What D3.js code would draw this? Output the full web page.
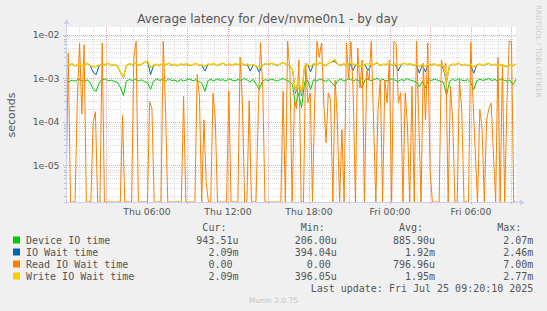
<!DOCTYPE html>
<html>
<head>
<meta charset="utf-8">
<script src="https://cdn.jsdelivr.net/npm/d3@7"></script>
<style>
  body { margin: 0; background: #f0f0f0; }
  svg text { font-family: "DejaVu Sans", sans-serif; }
  svg .mono { font-family: "DejaVu Sans Mono", monospace; white-space: pre; }
</style>
</head>
<body>
<div id="chart"></div>
<script>
"use strict";

// time span of the "by day" graph (33h20m)
const startTime = Date.UTC(2025, 6, 24, 0, 0, 10);
const endTime = Date.UTC(2025, 6, 25, 9, 20, 10);

// values in milliseconds
const deviceIO = [
  0.86, 0.82, 0.90, 0.85, 0.93, 0.88, 0.84, 0.91, 0.80, 0.55,
  0.50, 0.78, 0.92, 0.95, 0.87, 0.90, 0.84, 0.80, 0.62, 0.40,
  0.85, 0.93, 0.88, 0.95, 0.86, 0.91, 0.83, 0.78, 0.55, 0.86,
  0.94, 0.89, 0.92, 0.85, 0.97, 0.88, 0.90, 0.83, 0.93, 0.86,
  0.91, 0.95, 0.87, 0.92, 0.84, 0.75, 0.50, 0.88, 0.93, 0.86,
  0.97, 0.89, 0.92, 0.85, 0.96, 0.90, 0.87, 0.93, 0.88, 0.98,
  0.90, 0.82, 0.94, 0.72, 0.55, 0.86, 0.92, 0.88, 0.95, 0.90,
  0.86, 0.93, 0.97, 0.89, 0.84, 0.70, 0.23, 0.45, 0.21, 0.80,
  0.88, 0.55, 0.92, 0.86, 0.95, 0.90, 0.84, 0.93, 0.78, 0.65,
  0.88, 0.94, 0.86, 0.91, 0.97, 0.85, 0.92, 0.88, 0.60, 0.90,
  0.95, 0.87, 0.92, 0.99, 0.88, 0.94, 0.86, 0.91, 0.96, 0.89,
  0.84, 0.93, 0.88, 0.97, 0.90, 0.86, 0.80, 0.62, 0.85, 0.60,
  0.92, 0.88, 0.95, 0.90, 0.84, 0.80, 0.40, 0.85, 0.93, 0.88,
  0.96, 0.90, 0.86, 0.93, 0.80, 0.55, 0.87, 0.94, 0.89, 0.92,
  0.98, 0.88, 0.93, 0.86, 0.95, 0.90, 0.85, 0.91, 0.70, 0.94
];

const ioWait = [
  2.02, 1.92, 2.12, 1.88, 2.07, 1.97, 1.90, 2.17, 1.92, 1.35,
  1.20, 1.97, 2.10, 2.02, 2.17, 1.92, 2.05, 1.87, 1.35, 1.02,
  1.92, 2.12, 2.02, 2.22, 1.95, 2.07, 2.27, 2.45, 1.20, 1.97,
  2.07, 1.92, 2.12, 2.02, 2.17, 1.95, 2.05, 1.90, 2.10, 2.00,
  2.12, 1.92, 2.02, 2.17, 1.95, 1.97, 1.45, 2.07, 2.02, 2.15,
  1.92, 2.05, 2.20, 1.97, 2.10, 1.93, 2.12, 2.02, 2.22, 1.97,
  2.07, 1.45, 2.02, 1.87, 1.35, 1.97, 2.12, 2.02, 2.17, 2.07,
  1.95, 2.10, 2.27, 2.02, 1.92, 1.55, 0.45, 0.85, 0.40, 1.87,
  2.07, 1.40, 2.12, 1.97, 2.22, 2.07, 1.92, 2.17, 2.37, 2.40,
  2.07, 1.97, 2.12, 1.92, 2.27, 1.50, 2.07, 1.90, 1.82, 2.02,
  1.50, 1.97, 2.07, 2.22, 1.92, 2.07, 2.02, 2.15, 1.97, 2.10,
  1.45, 2.05, 2.17, 2.02, 2.12, 1.95, 2.07, 1.30, 2.02, 1.40,
  2.07, 1.97, 2.12, 1.92, 2.02, 1.60, 0.80, 1.92, 2.07, 2.02,
  2.17, 1.97, 2.07, 1.92, 2.02, 1.30, 1.97, 2.10, 1.92, 2.05,
  2.17, 1.97, 2.07, 1.87, 2.02, 1.92, 1.82, 1.97, 1.92, 2.09
];

const readWait = [
  0, 3.8, 0, 0, 0, 0.29, 6.4, 0.15, 5.8, 0,
  0, 0, 0.095, 0.17, 0, 0, 6.4, 0, 0, 0,
  0, 0, 0, 0, 0, 0.14, 0, 0, 0, 0,
  3.0, 7.0, 0, 0, 0, 0, 0, 0.29, 0.2, 0,
  0, 0, 0, 7.0, 0.2, 0, 0, 0, 0, 0,
  0, 0, 0.38, 0, 0, 0, 0, 0, 1.2, 0.38,
  0, 0.11, 0.004, 0, 0, 0.45, 0.12, 0, 0, 0,
  0, 0, 0.5, 0, 0, 0, 0, 3.0, 0.3, 0,
  0, 0.3, 0, 0, 0, 0.14, 6.5, 0.6, 0, 0,
  0, 0, 0, 0, 0, 0, 0.5, 0, 7.0, 1.5,
  0, 0.29, 0.2, 2.6, 0, 0, 2.2, 0.27, 0.46, 0,
  0.32, 7.0, 3.0, 6.4, 0.27, 0.033, 0.46, 0.32, 0, 0.9,
  0.11, 0, 0.066, 0, 6.4, 1.0, 6.8, 0.46, 0, 4.9,
  0.6, 2.6, 0, 1.5, 0.9, 7.0, 0.11, 0, 0.19, 0.9,
  0, 0.9, 0.27, 2.6, 0, 7.0, 6.0, 0.27, 0.46, 0,
  0.46, 0.08, 0, 0.65, 0, 7.0, 0.11, 0, 2.2, 0.11,
  6.4, 0.008, 0, 0, 0, 0, 2.6, 1.6, 2.2, 0,
  0.65, 0.11, 0, 0, 0.9, 0.19, 0, 0, 0, 6.6,
  0.3, 0.019, 0, 0.19, 0.07, 0, 0.11, 0.2, 0.27, 0.02,
  0, 3.0, 0, 2.0, 0, 0.27, 7.0, 7.0, 0, 0
];

const writeWait = [
  2.05, 1.95, 2.15, 1.90, 2.10, 2.00, 1.92, 2.20, 1.95, 1.80,
  1.85, 2.00, 2.12, 2.05, 2.20, 1.95, 2.08, 1.90, 1.40, 1.05,
  1.95, 2.15, 2.05, 2.25, 1.98, 2.10, 2.30, 2.50, 1.70, 2.00,
  2.10, 1.95, 2.15, 2.05, 2.20, 1.98, 2.08, 1.92, 2.12, 2.02,
  2.15, 1.95, 2.05, 2.20, 1.98, 2.00, 1.85, 2.10, 2.05, 2.18,
  1.95, 2.08, 2.22, 2.00, 2.12, 1.96, 2.15, 2.05, 2.25, 2.00,
  2.10, 1.95, 2.05, 1.90, 1.70, 2.00, 2.15, 2.05, 2.20, 2.10,
  1.98, 2.12, 2.30, 2.05, 1.95, 1.60, 0.50, 0.90, 0.45, 1.90,
  2.10, 1.85, 2.15, 2.00, 2.25, 2.10, 1.95, 2.20, 2.40, 2.70,
  2.10, 2.00, 2.15, 1.95, 2.30, 2.05, 2.10, 1.92, 1.85, 2.05,
  2.15, 2.00, 2.10, 2.25, 1.95, 2.10, 2.05, 2.18, 2.00, 2.12,
  1.95, 2.08, 2.20, 2.05, 2.15, 1.98, 2.10, 1.90, 2.05, 1.85,
  2.10, 2.00, 2.15, 1.95, 2.05, 1.90, 0.85, 1.95, 2.10, 2.05,
  2.20, 2.00, 2.10, 1.95, 2.05, 1.80, 2.00, 2.12, 1.95, 2.08,
  2.20, 2.00, 2.10, 1.90, 2.05, 1.95, 1.85, 2.00, 1.95, 2.09
];

const seriesNames = ["Device IO time", "IO Wait time", "Read IO Wait time", "Write IO Wait time"];
const seriesColors = ["#00cc00", "#0066b3", "#ff8000", "#ffcc00"];
const curLabels = ["943.51u", "2.09m", "0.00", "2.09m"];
const minLabels = ["206.00u", "394.04u", "0.00", "396.05u"];
const avgLabels = ["885.90u", "1.92m", "796.96u", "1.95m"];
const maxLabels = ["2.07m", "2.46m", "7.00m", "2.77m"];
const yTickValues = [1e-2, 1e-3, 1e-4, 1e-5];

const seriesData = [deviceIO, ioWait, readWait, writeWait];
const lineWidths = [1, 1, 1, 1.4];

let width = 547, height = 311;
let margin = { left: 66, right: 31, top: 27, bottom: 109 };
let plotW = width - margin.left - margin.right;   // 450
let plotH = height - margin.top - margin.bottom;  // 175

let svg = d3.select("#chart").append("svg")
  .attr("width", width)
  .attr("height", height)
  .attr("viewBox", [0, 0, width, height].join(" "));

svg.append("rect")
  .attr("width", width).attr("height", height)
  .attr("fill", "#f0f0f0");

let xScale = d3.scaleUtc()
  .domain([startTime, endTime])
  .range([margin.left, margin.left + plotW]);

let yScale = d3.scaleLog()
  .domain([1.44e-6, 1.486e-2])
  .range([margin.top + plotH, margin.top])
  .clamp(true);

let bottomY = margin.top + plotH;
let rightX = margin.left + plotW;

svg.append("rect")
  .attr("x", margin.left).attr("y", margin.top)
  .attr("width", plotW).attr("height", plotH)
  .attr("fill", "#ffffff");

// grid
let grid = svg.append("g").attr("class", "grid");
let snap = v => Math.round(v) + 0.5;

let minorHours = d3.utcHour.range(startTime, endTime).filter(d => d.getUTCHours() % 3 !== 0);
let majorHours = d3.utcHour.every(3).range(startTime, endTime);
let labelHours = d3.utcHour.every(6).range(startTime, endTime);

grid.selectAll(".vminor")
  .data(minorHours)
  .enter().append("line")
  .attr("x1", d => snap(xScale(d))).attr("x2", d => snap(xScale(d)))
  .attr("y1", margin.top).attr("y2", bottomY)
  .attr("stroke", "#dcdcdc").attr("stroke-dasharray", "1,1");

// minor log lines: 2..9 per decade
let minorY = [];
for (let e = -6; e <= -2; e++) {
  for (let m = 2; m <= 9; m++) {
    let v = m * Math.pow(10, e);
    if (v > yScale.domain()[0] && v < yScale.domain()[1]) minorY.push(v);
  }
}

grid.selectAll(".hminor")
  .data(minorY)
  .enter().append("line")
  .attr("x1", margin.left).attr("x2", rightX)
  .attr("y1", d => snap(yScale(d))).attr("y2", d => snap(yScale(d)))
  .attr("stroke", "#dcdcdc").attr("stroke-dasharray", "1,1");

grid.selectAll(".vmajor")
  .data(majorHours)
  .enter().append("line")
  .attr("x1", d => snap(xScale(d))).attr("x2", d => snap(xScale(d)))
  .attr("y1", margin.top).attr("y2", bottomY + 3)
  .attr("stroke", "#eba4a4").attr("stroke-dasharray", "1,1");

grid.selectAll(".hmajor")
  .data(yTickValues)
  .enter().append("line")
  .attr("x1", margin.left - 3).attr("x2", rightX)
  .attr("y1", d => snap(yScale(d))).attr("y2", d => snap(yScale(d)))
  .attr("stroke", "#eba4a4").attr("stroke-dasharray", "1,1");

// minor ticks on the y axis
grid.selectAll(".ytick")
  .data(minorY)
  .enter().append("line")
  .attr("x1", margin.left - 2).attr("x2", margin.left)
  .attr("y1", d => snap(yScale(d))).attr("y2", d => snap(yScale(d)))
  .attr("stroke", "#bbbbbb");

// data lines
svg.append("clipPath").attr("id", "plotClip")
  .append("rect")
  .attr("x", margin.left).attr("y", margin.top - 1)
  .attr("width", plotW + 1).attr("height", plotH + 2);

let lines = svg.append("g").attr("clip-path", "url(#plotClip)");

seriesData.forEach(function(values, k) {
  let n = values.length;
  let timeAt = i => startTime + i * (endTime - startTime) / (n - 1);
  let line = d3.line()
    .x((d, i) => xScale(timeAt(i)))
    .y(d => d > 0 ? yScale(d / 1000) : bottomY);

  lines.append("path")
    .attr("d", line(values))
    .attr("fill", "none")
    .attr("stroke", seriesColors[k])
    .attr("stroke-width", lineWidths[k])
    .attr("stroke-linejoin", "round");
});

// axes
let axisColor = "#c9d0f4";
svg.append("line")
  .attr("x1", margin.left - 2).attr("x2", rightX + 4)
  .attr("y1", bottomY + 0.5).attr("y2", bottomY + 0.5)
  .attr("stroke", axisColor);
svg.append("line")
  .attr("x1", margin.left + 0.5).attr("x2", margin.left + 0.5)
  .attr("y1", bottomY + 2).attr("y2", margin.top - 4)
  .attr("stroke", axisColor);
svg.append("path")
  .attr("d", `M${rightX + 4},${bottomY - 2.5}L${rightX + 9},${bottomY + 0.5}L${rightX + 4},${bottomY + 3.5}Z`)
  .attr("fill", axisColor);
svg.append("path")
  .attr("d", `M${margin.left - 2.5},${margin.top - 3}L${margin.left + 0.5},${margin.top - 8}L${margin.left + 3.5},${margin.top - 3}Z`)
  .attr("fill", axisColor);

// tick labels
let fmt = d3.utcFormat("%a %H:%M");
svg.selectAll(".xlabel")
  .data(labelHours)
  .enter().append("text")
  .attr("x", d => xScale(d))
  .attr("y", bottomY + 13)
  .attr("text-anchor", "middle")
  .attr("font-size", "9.3px")
  .attr("fill", "#555")
  .text(d => fmt(d));

svg.selectAll(".ylabel")
  .data(yTickValues)
  .enter().append("text")
  .attr("x", margin.left - 6.5)
  .attr("y", d => yScale(d) + 3.5)
  .attr("text-anchor", "end")
  .attr("font-size", "9.3px")
  .attr("fill", "#555")
  .text(d => d3.format(".0e")(d).replace(/e-(\d)$/, "e-0$1"));

// titles
svg.append("text")
  .attr("x", width / 2 - 6).attr("y", 23)
  .attr("text-anchor", "middle")
  .attr("font-size", "12px")
  .attr("fill", "#555")
  .text("Average latency for /dev/nvme0n1 - by day");

svg.append("text")
  .attr("transform", "translate(15,115) rotate(-90)")
  .attr("text-anchor", "middle")
  .attr("font-size", "11px")
  .attr("fill", "#555")
  .text("seconds");

svg.append("text")
  .attr("transform", "translate(535.5,5) rotate(90)")
  .attr("text-anchor", "start")
  .attr("font-size", "7.2px")
  .attr("fill", "#cccccc")
  .text("RRDTOOL / TOBI OETIKER");

// legend
let charW = 6.02;
let colEnds = [238.5, 336.8, 435.1, 533.4];
let colHeads = ["Cur:", "Min:", "Avg:", "Max:"];
let rowY = [243.5, 255.5, 267.5, 279.5];

let legend = svg.append("g").attr("class", "legend");

legend.selectAll(".head")
  .data(colHeads)
  .enter().append("text")
  .attr("class", "mono")
  .attr("x", (d, i) => colEnds[i] - 2 * charW)
  .attr("y", 231)
  .attr("text-anchor", "end")
  .attr("font-size", "10px")
  .attr("fill", "#555")
  .text(d => d);

seriesNames.forEach(function(name, k) {
  legend.append("rect")
    .attr("x", 13).attr("y", rowY[k] - 7)
    .attr("width", 7).attr("height", 7)
    .attr("fill", seriesColors[k]);

  legend.append("text")
    .attr("class", "mono")
    .attr("x", 26).attr("y", rowY[k])
    .attr("font-size", "10px")
    .attr("fill", "#555")
    .text(name);

  [curLabels[k], minLabels[k], avgLabels[k], maxLabels[k]].forEach(function(label, c) {
    let hasUnit = /[um]$/.test(label);
    legend.append("text")
      .attr("class", "mono")
      .attr("x", colEnds[c] - (hasUnit ? 0 : charW))
      .attr("y", rowY[k])
      .attr("text-anchor", "end")
      .attr("font-size", "10px")
      .attr("fill", "#555")
      .text(label);
  });
});

legend.append("text")
  .attr("class", "mono")
  .attr("x", colEnds[3]).attr("y", 291.5)
  .attr("text-anchor", "end")
  .attr("font-size", "10px")
  .attr("fill", "#555")
  .text("Last update: Fri Jul 25 09:20:10 2025");

svg.append("text")
  .attr("x", width / 2).attr("y", 303)
  .attr("text-anchor", "middle")
  .attr("font-size", "7.5px")
  .attr("fill", "#c4c4c4")
  .text("Munin 2.0.75");
</script>
</body>
</html>
